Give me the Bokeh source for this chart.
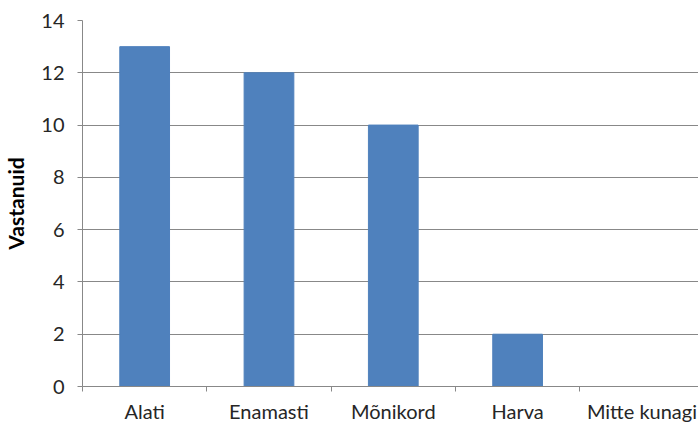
from bokeh.plotting import figure
from bokeh.models import FixedTicker, Range1d, ColumnDataSource
from bokeh.embed import file_html
from bokeh.resources import INLINE

categories = ["Alati", "Enamasti", "Mõnikord", "Harva", "Mitte kunagi"]
values = [13, 12, 10, 2, 0]
y_ticks = [0, 2, 4, 6, 8, 10, 12, 14]
y_label = "Vastanuid"

xs = [i + 0.5 for i in range(len(categories))]
src = ColumnDataSource(dict(x=xs, top=values))

p = figure(width=698, height=425, output_backend="svg", toolbar_location=None,
           x_range=Range1d(0, 4.955), y_range=Range1d(0, 14),
           min_border_left=82, min_border_top=20, min_border_right=0, min_border_bottom=30)
p.outline_line_color = None
p.vbar(x="x", top="top", width=0.4, bottom=0, source=src, color="#4F81BD")

font = "Lato"
tc = "#262626"
ax_col = "#888888"

p.xaxis.ticker = FixedTicker(ticks=xs, minor_ticks=list(range(len(categories) + 1)))
p.xaxis.major_label_overrides = {x: c for x, c in zip(xs, categories)}
p.xaxis.major_tick_out = 0
p.xaxis.major_tick_in = 0
p.xaxis.minor_tick_out = 5
p.xaxis.minor_tick_in = 0
p.xaxis.minor_tick_line_color = ax_col
p.xaxis.axis_line_color = ax_col
p.xaxis.major_label_standoff = 7
p.xaxis.major_label_text_font = font
p.xaxis.major_label_text_font_size = "20px"
p.xaxis.major_label_text_color = tc
p.xgrid.grid_line_color = None

p.yaxis.ticker = FixedTicker(ticks=y_ticks)
p.yaxis.minor_tick_line_color = None
p.yaxis.major_tick_out = 5
p.yaxis.major_tick_in = 0
p.yaxis.major_tick_line_color = ax_col
p.yaxis.axis_line_color = ax_col
p.yaxis.major_label_standoff = 13
p.yaxis.major_label_text_font = font
p.yaxis.major_label_text_font_size = "20px"
p.yaxis.major_label_text_color = tc
p.yaxis.axis_label = y_label
p.yaxis.axis_label_text_font = font
p.yaxis.axis_label_text_font_style = "bold"
p.yaxis.axis_label_text_font_size = "21px"
p.yaxis.axis_label_text_color = "#000000"
p.yaxis.axis_label_standoff = 10
p.ygrid.grid_line_color = ax_col
p.ygrid.grid_line_width = 1

open("out.html", "w").write(file_html(p, INLINE))
